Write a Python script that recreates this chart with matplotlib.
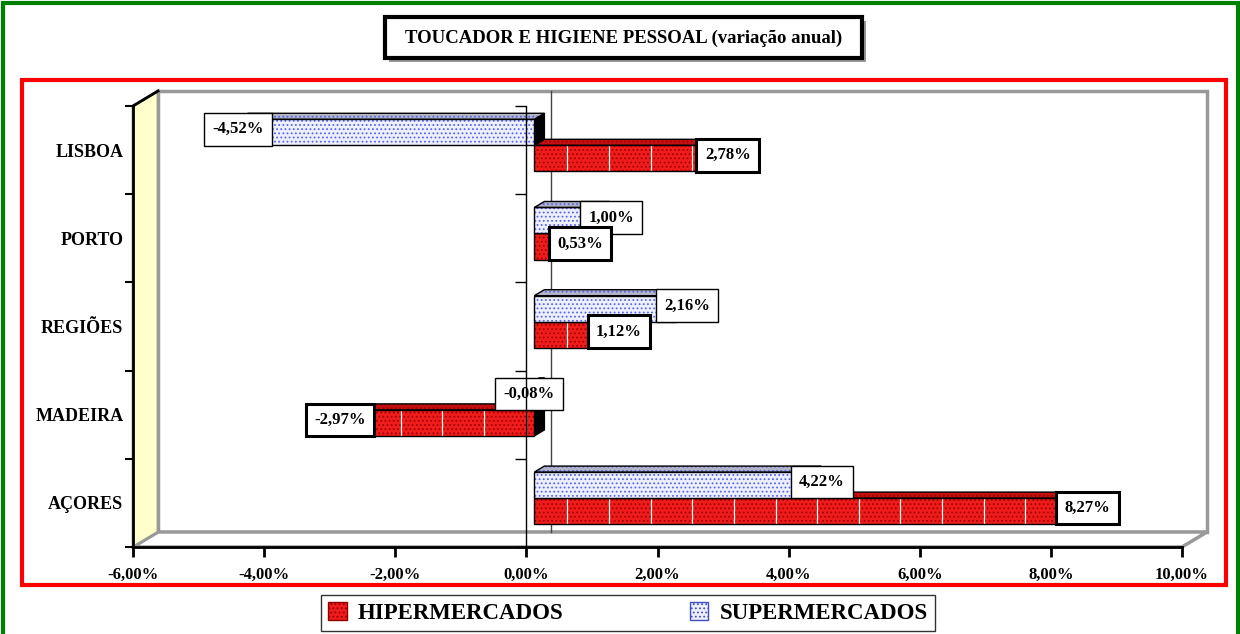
import numpy as np
import matplotlib.pyplot as plt
from matplotlib.patches import Polygon, Rectangle
from matplotlib.transforms import IdentityTransform

# data (bottom to top, as in the chart)
regioes = ['AÇORES', 'MADEIRA', 'REGIÕES', 'PORTO', 'LISBOA']
hiper = [8.27, -2.97, 1.12, 0.53, 2.78]
supermerc = [4.22, -0.08, 2.16, 1.00, -4.52]
x_ticks = [-6, -4, -2, 0, 2, 4, 6, 8, 10]
titulo = 'TOUCADOR E HIGIENE PESSOAL (variação anual)'

plt.rcParams['font.family'] = ['Liberation Serif', 'DejaVu Serif']
plt.rcParams['font.weight'] = 'bold'
plt.rcParams['hatch.linewidth'] = 0.8

W, H = 1240, 634
fig = plt.figure(figsize=(W / 100, H / 100), dpi=100)


def fx(px):
    return px / W


def fy(py):
    return 1 - py / H


def fig_rect(x0, y0, x1, y1, **kw):
    r = Rectangle((fx(x0), fy(y1)), (x1 - x0) / W, (y1 - y0) / H,
                  transform=fig.transFigure, **kw)
    fig.add_artist(r)
    return r


# outer frames
fig_rect(3, 3, 1238, 640, fill=False, ec='#008000', lw=3)
fig_rect(22, 80, 1226, 585, fill=False, ec='#FF0000', lw=3)

ax = fig.add_axes([fx(133), fy(547), (1182 - 133) / W, (547 - 106) / H])
ax.set_xlim(-6, 10)
ax.set_ylim(-0.5, 4.5)
ax.patch.set_visible(False)

DX, DY = 25, 15  # depth of the 3d box, pixels


def p3(x, y, d):
    X, Y = ax.transData.transform((x, y))
    return (X + d * DX, Y + d * DY)


def poly(pts, **kw):
    p = Polygon(pts, closed=True, transform=IdentityTransform(), clip_on=False, **kw)
    ax.add_patch(p)
    return p


x0, x1 = ax.get_xlim()
y0, y1 = ax.get_ylim()

# back wall, floor, side wall
poly([p3(x0, y0, 1), p3(x1, y0, 1), p3(x1, y1, 1), p3(x0, y1, 1)],
     fc='white', ec='#999999', lw=2.5, zorder=0.5)
poly([p3(x0, y0, 0), p3(x1, y0, 0), p3(x1, y0, 1), p3(x0, y0, 1)],
     fc='white', ec='#999999', lw=2.5, zorder=0.6)
poly([p3(x0, y0, 0), p3(x0, y1, 0), p3(x0, y1, 1), p3(x0, y0, 1)],
     fc='#FFFFCC', ec='#999999', lw=2, zorder=0.7)
a, b = p3(x0, y1, 0), p3(x0, y1, 1)
ax.plot([a[0], b[0]], [a[1], b[1]], color='black', lw=2, transform=IdentityTransform(),
        clip_on=False, zorder=0.8)
a, b = p3(0, y0, 1), p3(0, y1, 1)
ax.plot([a[0], b[0]], [a[1], b[1]], color='#444444', lw=1, transform=IdentityTransform(),
        clip_on=False, zorder=0.9)

# bars
h = 0.295
d0, d1 = 0.32, 0.72
styles = {
    'hiper': dict(face='#F01C1C', hatch_c='#A00000', top='#C41010', end='#000000'),
    'super': dict(face='#EEF0FF', hatch_c='#5566EE', top='#B4B4C4', end='#000000'),
}
stripe_x = np.arange(0.503 - 0.635 * 10, 10, 0.635)


def bar3d(v, ya, yb, st, stripes=False, z=2):
    xa, xb = min(0, v), max(0, v)
    front = [p3(xa, ya, d0), p3(xb, ya, d0), p3(xb, yb, d0), p3(xa, yb, d0)]
    top = [p3(xa, yb, d0), p3(xb, yb, d0), p3(xb, yb, d1), p3(xa, yb, d1)]
    end = [p3(xb, ya, d0), p3(xb, yb, d0), p3(xb, yb, d1), p3(xb, ya, d1)]
    poly(end, fc=st['end'], ec='black', lw=1, zorder=z)
    poly(top, fc=st['top'], ec=st['hatch_c'], lw=0, hatch='....', zorder=z)
    poly(top, fill=False, ec='black', lw=1, zorder=z + 0.01)
    poly(front, fc=st['face'], ec=st['hatch_c'], lw=0, hatch='....', zorder=z)
    if stripes:
        for sx in stripe_x:
            if xa < sx < xb:
                p, q = p3(sx, ya, d0), p3(sx, yb, d0)
                ax.plot([p[0], q[0]], [p[1], q[1]], color='white', lw=0.9,
                        transform=IdentityTransform(), clip_on=False, zorder=z + 0.005)
    poly(front, fill=False, ec='black', lw=1, zorder=z + 0.01)


def label(v, yc, lw, z):
    X, Y = p3(v, yc, d0)
    X += 11 if v > 0 else 0
    txt = f'{v:.2f}%'.replace('.', ',')
    ax.text(X, Y + 3, txt, transform=IdentityTransform(), ha='center', va='center',
            fontsize=12, fontweight='bold', zorder=z,
            bbox=dict(boxstyle='square,pad=0.5', fc='white', ec='black', lw=lw))


for i in range(len(regioes)):
    z = 2 + i * 0.1
    bar3d(hiper[i], i - h, i, styles['hiper'], stripes=True, z=z)
    bar3d(supermerc[i], i, i + h, styles['super'], z=z + 0.05)

for i in range(len(regioes)):
    label(supermerc[i], i + h / 2, 1, 6)
for i in range(len(regioes)):
    label(hiper[i], i - h / 2, 2.2, 7)

# front zero line with category ticks
ax.axvline(0, color='black', lw=1, zorder=8)
bounds = np.arange(-0.5, len(regioes), 1.0)
ax.plot([0] * len(bounds), bounds, ls='none', marker=0, markersize=8, mew=1,
        color='black', clip_on=False, zorder=8)

# axes
for s in ['top', 'right']:
    ax.spines[s].set_visible(False)
ax.spines['bottom'].set_linewidth(2)
ax.spines['left'].set_linewidth(2)
ax.spines['bottom'].set_zorder(9)
ax.spines['left'].set_zorder(9)
ax.set_xticks(x_ticks, labels=[f'{t:.2f}%'.replace('.', ',') for t in x_ticks])
ax.tick_params(axis='x', length=7, width=2, pad=7, labelsize=12)
ax.set_yticks(range(len(regioes)), labels=regioes)
ax.tick_params(axis='y', which='major', length=0, pad=7, labelsize=13)
ax.set_yticks(bounds, minor=True)
ax.tick_params(axis='y', which='minor', length=6, width=1.5)
for t in ax.get_xticklabels() + ax.get_yticklabels():
    t.set_fontweight('bold')

# title box
fig_rect(389, 21, 866, 62, fc='#999999', ec='none', lw=0)
fig_rect(385, 17, 862, 58, fc='white', ec='black', lw=3)
fig.text(fx(623.5), fy(38), titulo, ha='center', va='center', fontsize=13.5,
         fontweight='bold')

# legend
handles = [
    Rectangle((0, 0), 1, 1, fc=styles['hiper']['face'], ec='#900000', hatch='....'),
    Rectangle((0, 0), 1, 1, fc=styles['super']['face'], ec='#4050C0', hatch='....'),
]
leg = fig.legend(handles, ['HIPERMERCADOS', 'SUPERMERCADOS'], loc='center',
                 bbox_to_anchor=(fx(628), fy(613)), ncol=2, frameon=True,
                 fancybox=False, edgecolor='black', handlelength=0.8, handleheight=0.8,
                 handletextpad=0.5, columnspacing=5.5, borderpad=0.3, borderaxespad=0,
                 prop={'family': 'Liberation Serif', 'weight': 'bold', 'size': 16.5})
leg.get_frame().set_linewidth(1)

fig.savefig('out.png', dpi=100)
